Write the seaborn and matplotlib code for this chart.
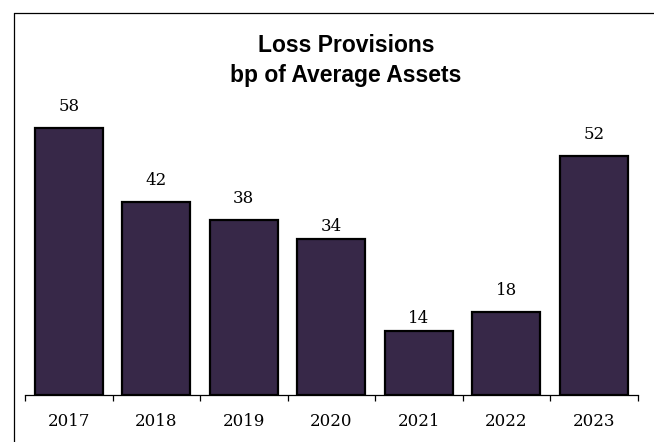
import matplotlib
matplotlib.use("Agg")
import matplotlib.pyplot as plt
from matplotlib import font_manager as fm
from matplotlib.lines import Line2D
import seaborn as sns
import pandas as pd

years = ["2017", "2018", "2019", "2020", "2021", "2022", "2023"]
provisions_bp = [58, 42, 38, 34, 14, 18, 52]

df = pd.DataFrame({"year": years, "bp": provisions_bp})

sns.set_theme(style="white")
plt.rcParams["font.family"] = ["DejaVu Serif"]

# regular-width bold sans for the heading (avoid the Narrow variant)
title_prop = fm.FontProperties(family=["Liberation Sans", "DejaVu Sans"],
                               weight="bold", size=16.5)
for f in fm.fontManager.ttflist:
    if f.name == "Liberation Sans" and f.weight in (700, "bold") \
            and f.style == "normal" and "Narrow" not in f.fname:
        title_prop = fm.FontProperties(fname=f.fname, size=16.5)
        break

W, H = 654, 442
fig = plt.figure(figsize=(W / 100, H / 100), dpi=100)
fig.patch.set_facecolor("white")

ymax = 64
px_per_unit = 4.6
ax = fig.add_axes([25 / W, 47 / H, 612.5 / W, ymax * px_per_unit / H])

sns.barplot(data=df, x="year", y="bp", color="#372848", saturation=1,
            width=0.78, edgecolor="black", linewidth=1.6, ax=ax)

ax.set_xlim(-0.5, len(years) - 0.5)
ax.set_ylim(0, ymax)
ax.set_xlabel("")
ax.set_ylabel("")
ax.set_yticks([])

for s in ["top", "right", "left"]:
    ax.spines[s].set_visible(False)
ax.spines["bottom"].set_color("black")
ax.spines["bottom"].set_linewidth(0.9)

# category separators as ticks, labels at the bar centres
ax.set_xticks([i - 0.5 for i in range(len(years) + 1)], minor=True)
ax.tick_params(axis="x", which="minor", direction="out", length=4.5,
               width=0.9, color="black", bottom=True)
ax.tick_params(axis="x", which="major", length=0, pad=13, labelsize=12,
               labelcolor="black")

# value labels; the two lower mid bars carry their labels a little closer
label_gap = [13, 13, 13, 4, 4, 13, 13]
for i, v in enumerate(provisions_bp):
    ax.annotate(f"{v}", (i, v), xytext=(0, label_gap[i]), textcoords="offset pixels",
                ha="center", va="bottom", fontsize=12, color="black")

fig.text(346 / W, 1 - 52 / H, "Loss Provisions", ha="center", va="baseline",
         fontproperties=title_prop, color="black")
fig.text(346 / W, 1 - 82 / H, "bp of Average Assets", ha="center", va="baseline",
         fontproperties=title_prop, color="black")

# frame lines along the left and top edges
fig.add_artist(Line2D([14 / W, 14 / W], [0, 1 - 13 / H], transform=fig.transFigure,
                      color="black", linewidth=0.9))
fig.add_artist(Line2D([14 / W, 1], [1 - 13 / H, 1 - 13 / H], transform=fig.transFigure,
                      color="black", linewidth=0.9))

fig.savefig("out.png", dpi=100)
